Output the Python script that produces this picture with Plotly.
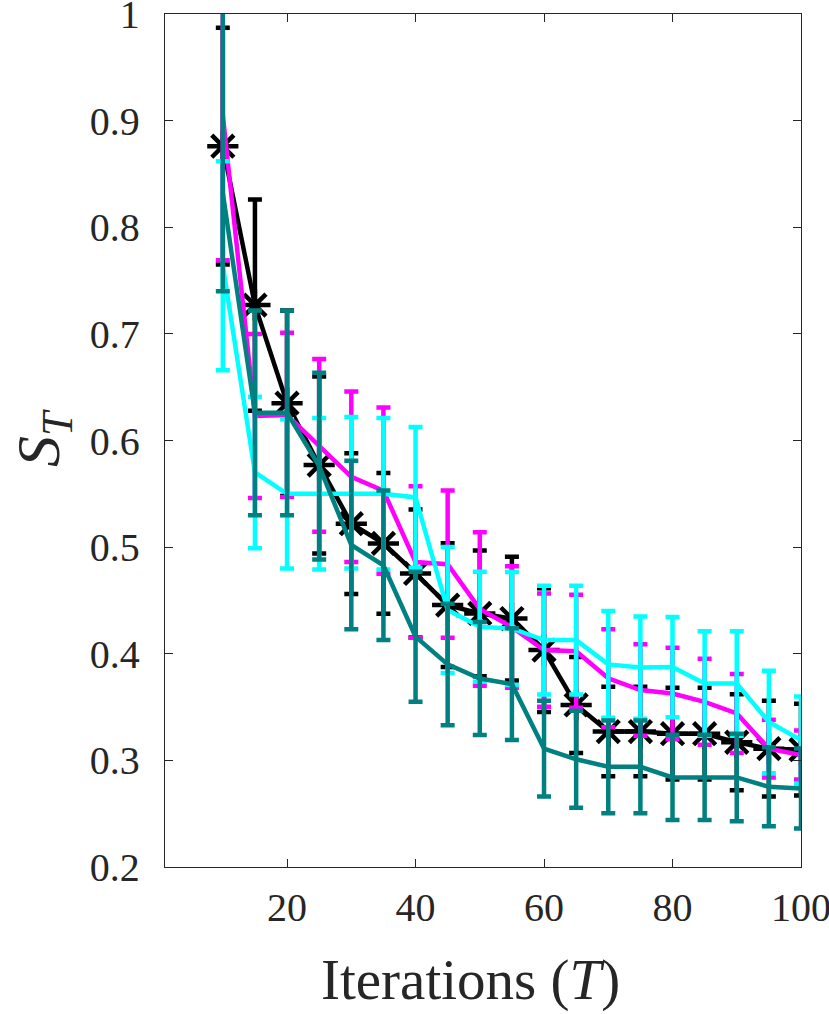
import plotly.graph_objects as go

iterations = [10, 15, 20, 25, 30, 35, 40, 45, 50, 55, 60, 65, 70, 75, 80, 85, 90, 95, 100]

black_mean = [0.876, 0.727, 0.635, 0.577, 0.522, 0.5035, 0.4753, 0.4456, 0.4378, 0.433,
              0.4034, 0.352, 0.327, 0.327, 0.325, 0.325, 0.317, 0.311, 0.310]
black_err = [0.111, 0.099, 0.087, 0.083, 0.066, 0.066, 0.060, 0.058, 0.059, 0.058,
             0.058, 0.045, 0.042, 0.042, 0.043, 0.043, 0.045, 0.045, 0.043]

magenta_mean = [0.905, 0.623, 0.624, 0.5955, 0.566, 0.553, 0.486, 0.484, 0.442, 0.425,
                0.4034, 0.4024, 0.377, 0.366, 0.3627, 0.3549, 0.344, 0.311, 0.305]
magenta_err = [0.136, 0.077, 0.077, 0.081, 0.080, 0.078, 0.071, 0.069, 0.072, 0.057,
               0.053, 0.053, 0.046, 0.043, 0.043, 0.0403, 0.037, 0.027, 0.023]

cyan_mean = [0.764, 0.570, 0.550, 0.550, 0.551, 0.550, 0.5466, 0.441, 0.4253, 0.4237,
             0.4128, 0.4128, 0.390, 0.387, 0.3875, 0.372, 0.372, 0.336, 0.319]
cyan_err = [0.098, 0.071, 0.070, 0.071, 0.071, 0.071, 0.066, 0.059, 0.0516, 0.053,
            0.051, 0.051, 0.050, 0.048, 0.047, 0.049, 0.049, 0.048, 0.041]

teal_mean = [0.832, 0.626, 0.626, 0.576, 0.502, 0.483, 0.416, 0.390, 0.3768, 0.3715,
             0.311, 0.301, 0.294, 0.294, 0.284, 0.284, 0.284, 0.2752, 0.2736]
teal_err_plus = [0.190, 0.096, 0.096, 0.0875, 0.079, 0.070, 0.061, 0.057, 0.053, 0.0525,
                 0.045, 0.0455, 0.0435, 0.0435, 0.040, 0.040, 0.041, 0.037, 0.0375]
teal_err_minus = [0.092, 0.096, 0.096, 0.0875, 0.079, 0.070, 0.061, 0.057, 0.053, 0.0525,
                  0.045, 0.0455, 0.0435, 0.0435, 0.040, 0.040, 0.041, 0.037, 0.0375]

x_ticks = [20, 40, 60, 80, 100]
y_ticks = [0.2, 0.3, 0.4, 0.5, 0.6, 0.7, 0.8, 0.9, 1.0]
y_tick_text = ["0.2", "0.3", "0.4", "0.5", "0.6", "0.7", "0.8", "0.9", "1"]

LW = 4.5
CAP = 7
AX = "#262626"
FONT = "Liberation Serif, Times New Roman, serif"

PLOT_L, PLOT_R, PLOT_T, PLOT_B = 165, 801, 14, 867
FIG_W, FIG_H = 829, 1014
plot_w = PLOT_R - PLOT_L
plot_h = PLOT_B - PLOT_T

fig = go.Figure()


def add_series(mean, plus, minus, color, marker=None):
    kw = dict(
        x=iterations, y=mean,
        mode="lines+markers" if marker else "lines",
        line=dict(color=color, width=LW),
        error_y=dict(type="data", array=plus, arrayminus=minus, symmetric=False,
                     color=color, thickness=LW, width=CAP),
        showlegend=False,
        hoverinfo="skip",
    )
    if marker:
        kw["marker"] = dict(symbol="asterisk-open", size=26, color=color,
                            line=dict(color=color, width=4.5))
    fig.add_trace(go.Scatter(**kw))


add_series(black_mean, black_err, black_err, "#000000", marker=True)
add_series(magenta_mean, magenta_err, magenta_err, "#FF00FF")
add_series(cyan_mean, cyan_err, cyan_err, "#00FFFF")
add_series(teal_mean, teal_err_plus, teal_err_minus, "#008080")

axis_common = dict(
    showline=True, linecolor=AX, linewidth=1.3, mirror="ticks",
    ticks="inside", ticklen=8, tickwidth=1.3, tickcolor=AX,
    showgrid=False, zeroline=False, ticklabeloverflow="allow", automargin=False,
    tickfont=dict(family=FONT, size=40, color=AX),
)

fig.update_xaxes(range=[1, 100.001], tickvals=x_ticks, ticklabelstandoff=5, **axis_common)
fig.update_yaxes(range=[0.19999, 1.00001], tickvals=y_ticks, ticktext=y_tick_text,
                 ticklabelstandoff=16, **axis_common)


def px_x(px):
    return (px - PLOT_L) / plot_w


def px_y(py):
    return (PLOT_B - py) / plot_h


fig.update_layout(
    width=FIG_W, height=FIG_H,
    margin=dict(l=PLOT_L, r=FIG_W - PLOT_R, t=PLOT_T, b=FIG_H - PLOT_B, autoexpand=False),
    paper_bgcolor="white", plot_bgcolor="white",
    font=dict(family=FONT, color=AX),
    annotations=[
        dict(text="Iterations (<i>T</i>)", xref="paper", yref="paper",
             x=px_x(470), y=px_y(980), xanchor="center", yanchor="middle",
             showarrow=False, font=dict(family=FONT, size=57, color=AX)),
        dict(text="<i>S</i><sub><i>T</i></sub>", xref="paper", yref="paper",
             x=px_x(42), y=px_y(438), xanchor="center", yanchor="middle",
             textangle=-90, showarrow=False, font=dict(family=FONT, size=62, color=AX)),
    ],
)

fig.write_html(
    "out.html",
    config={"displayModeBar": False},
    post_script="document.body.style.margin='0';document.body.style.overflow='hidden';",
)
